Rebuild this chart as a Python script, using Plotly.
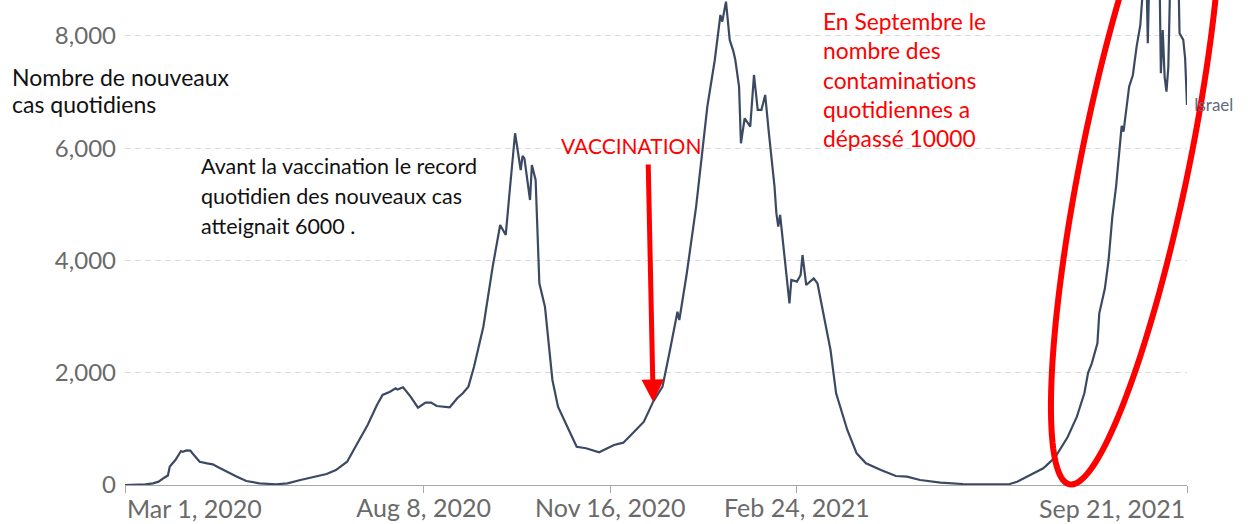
import numpy as np
import pandas as pd
import plotly.graph_objects as go

# ---------------- data ----------------
start_date = "2020-03-01"
day_offsets = [0, 11, 15, 18, 21, 23, 24, 27, 30, 31, 33, 35, 36, 40, 44, 47, 51, 55, 60, 65,
               72, 81, 87, 94, 101, 108, 113, 119, 124, 130, 135, 138, 142, 145, 146, 149, 153, 157, 161, 164,
               167, 172, 174, 178, 181, 184, 187, 192, 197, 201, 204, 206, 209, 212, 213, 214, 217, 218, 220, 222,
               225, 229, 232, 237, 242, 247, 251, 254, 262, 267, 272, 278, 283, 288, 292, 296, 297, 301, 306, 309,
               312, 314, 316, 319, 320, 322, 324, 326, 327, 329, 330, 332, 335, 337, 339, 341, 343, 345, 348, 349,
               350, 351, 354, 356, 357, 360, 362, 363, 365, 369, 371, 374, 378, 381, 387, 392, 397, 405, 413, 419,
               426, 437, 449, 463, 474, 478, 485, 492, 496, 499, 505, 510, 514, 516, 518, 521, 522, 525, 527, 529,
               531, 534, 535, 538, 540, 542, 544, 546, 547, 548, 549, 551, 552, 554, 555, 556, 557, 558, 559, 560,
               562, 564, 565, 567, 568, 569]
daily_cases = [0, 10, 30, 60, 130, 170, 330, 445, 605, 590, 615, 612, 570, 415, 385, 368, 297, 237, 148, 71,
               30, 12, 30, 89, 137, 196, 267, 415, 713, 1069, 1425, 1604, 1663, 1723, 1700, 1741, 1574, 1378, 1467, 1467,
               1408, 1385, 1385, 1545, 1634, 1752, 2108, 2820, 3890, 4633, 4455, 5198, 6267, 5612, 5862, 5820, 5078, 5701, 5434, 3594,
               3177, 1871, 1396, 1039, 682, 654, 610, 582, 713, 754, 921, 1128, 1485, 1752, 2405, 3088, 2940, 3772, 4960, 5850,
               6740, 7157, 7572, 8374, 8255, 8612, 7929, 7721, 7572, 7097, 6088, 6534, 6385, 7305, 6682, 6682, 6949, 6266, 5316, 4841,
               4603, 4811, 3890, 3237, 3653, 3623, 3742, 4098, 3563, 3682, 3594, 3059, 2405, 1634, 980, 565, 386, 267, 160, 148,
               89, 41, 18, 12, 18, 59, 178, 297, 420, 530, 850, 1217, 1634, 2000, 2168, 2524, 3059, 3500, 4009, 4782,
               5316, 6400, 6296, 7097, 7305, 7810, 8196, 9000, 9600, 7870, 9400, 10200, 10500, 9800, 7335, 8107, 7276, 7008, 7453, 9000,
               10300, 9800, 8048, 7929, 7600, 6771]
country = "Israel"

x_tick_dates = ["2020-03-01", "2020-08-08", "2020-11-16", "2021-02-24", "2021-09-21"]
x_tick_labels = ["Mar 1, 2020", "Aug 8, 2020", "Nov 16, 2020", "Feb 24, 2021", "Sep 21, 2021"]
y_tick_values = [0, 2000, 4000, 6000, 8000]

vaccination_date = "2020-12-09"
vaccination_value = 1480

dates = pd.Timestamp(start_date) + pd.to_timedelta(day_offsets, unit="D")

# ---------------- layout geometry ----------------
W_FIG, H_FIG = 1251, 524
M_L, M_R, M_T, M_B = 125, 64, 0, 39
PW = W_FIG - M_L - M_R
PH = H_FIG - M_T - M_B


def px(xp):
    return (xp - M_L) / PW


def py(yp):
    return (M_T + PH - yp) / PH


FONT = "Lato"
LINE_COLOR = "#3b4a62"
RED = "#ff0000"
TICK_GRAY = "#6a6a6a"
XTICK_SIZE = 25

fig = go.Figure()
fig.add_trace(go.Scatter(x=dates, y=daily_cases, mode="lines",
                         line=dict(color=LINE_COLOR, width=2.2), name=country,
                         showlegend=False, hoverinfo="skip"))

mid_text = ["" if i in (0, len(x_tick_labels) - 1) else t for i, t in enumerate(x_tick_labels)]

fig.update_layout(
    width=W_FIG, height=H_FIG,
    margin=dict(l=M_L, r=M_R, t=M_T, b=M_B, pad=0, autoexpand=False),
    paper_bgcolor="white", plot_bgcolor="white",
    font=dict(family=FONT, color=TICK_GRAY, size=24),
    xaxis=dict(type="date", range=[x_tick_dates[0], x_tick_dates[-1]], automargin=False,
               tickmode="array", tickvals=x_tick_dates, ticktext=mid_text,
               showgrid=False, zeroline=False, showline=True, linecolor="#a8a8a8", linewidth=1,
               ticks="outside", ticklen=7, tickcolor="#a8a8a8", tickwidth=1, ticklabelstandoff=-6,
               tickfont=dict(family=FONT, size=XTICK_SIZE, color=TICK_GRAY)),
    yaxis=dict(range=[0, 8641], tickmode="array", tickvals=y_tick_values, tickformat=",",
               automargin=False,
               showgrid=True, gridcolor="#dcdcdc", gridwidth=1, griddash="6px,4px",
               zeroline=False, showline=False, ticks="", ticklabelstandoff=8,
               tickfont=dict(family=FONT, size=24, color=TICK_GRAY)),
)

annotations = []
annotations.append(dict(x=x_tick_dates[0], xref="x", y=py(508), yref="paper", text=x_tick_labels[0],
                        showarrow=False, xanchor="left", yanchor="middle",
                        font=dict(family=FONT, size=XTICK_SIZE, color=TICK_GRAY)))
annotations.append(dict(x=x_tick_dates[-1], xref="x", y=py(508), yref="paper", text=x_tick_labels[-1],
                        showarrow=False, xanchor="right", yanchor="middle",
                        font=dict(family=FONT, size=XTICK_SIZE, color=TICK_GRAY)))

annotations.append(dict(x=px(1192), xref="paper", y=daily_cases[-1], yref="y", text=country,
                        showarrow=False, xanchor="left", yanchor="middle",
                        font=dict(family=FONT, size=17, color="#5f6b7c")))


def text_lines(lines, x_left, y_centers, color, size):
    for t, yc in zip(lines, y_centers):
        annotations.append(dict(x=px(x_left), xref="paper", y=py(yc), yref="paper", text=t,
                                showarrow=False, xanchor="left", yanchor="middle",
                                font=dict(family=FONT, size=size, color=color)))


text_lines(["Nombre de nouveaux", "cas quotidiens"], 10, [77, 104], "#111111", 23)
text_lines(["Avant la vaccination le record", "quotidien des nouveaux cas", "atteignait 6000 ."],
           199, [166, 196, 226], "#111111", 21.5)
text_lines(["En Septembre le", "nombre des", "contaminations", "quotidiennes a", "dépassé 10000"],
           821, [21, 50, 80, 109, 138], RED, 22.8)
text_lines(["VACCINATION"], 559, [145], RED, 21)

annotations.append(dict(x=vaccination_date, xref="x", y=vaccination_value, yref="y", text="",
                        showarrow=True, ax=-5, ay=-239, axref="pixel", ayref="pixel",
                        arrowhead=2, arrowsize=0.9, arrowwidth=5, arrowcolor=RED, standoff=0))

fig.update_layout(annotations=annotations)

# red ellipse (pixel-space geometry -> paper coords)
cx, cy, a, b, theta = 1136, 157, 334, 54, np.deg2rad(11.5)
t = np.linspace(0, 2 * np.pi, 145)
ux, uy = np.sin(theta), -np.cos(theta)
vx, vy = np.cos(theta), np.sin(theta)
ex = cx + a * np.cos(t) * ux + b * np.sin(t) * vx
ey = cy + a * np.cos(t) * uy + b * np.sin(t) * vy
path = "M " + " L ".join(f"{px(X):.5f},{py(Y):.5f}" for X, Y in zip(ex, ey)) + " Z"
fig.add_shape(type="path", path=path, xref="paper", yref="paper",
              line=dict(color=RED, width=6), layer="above")

fig.write_html("out.html", config={"displayModeBar": False},
               post_script="document.body.style.margin='0';document.body.style.overflow='hidden';")
